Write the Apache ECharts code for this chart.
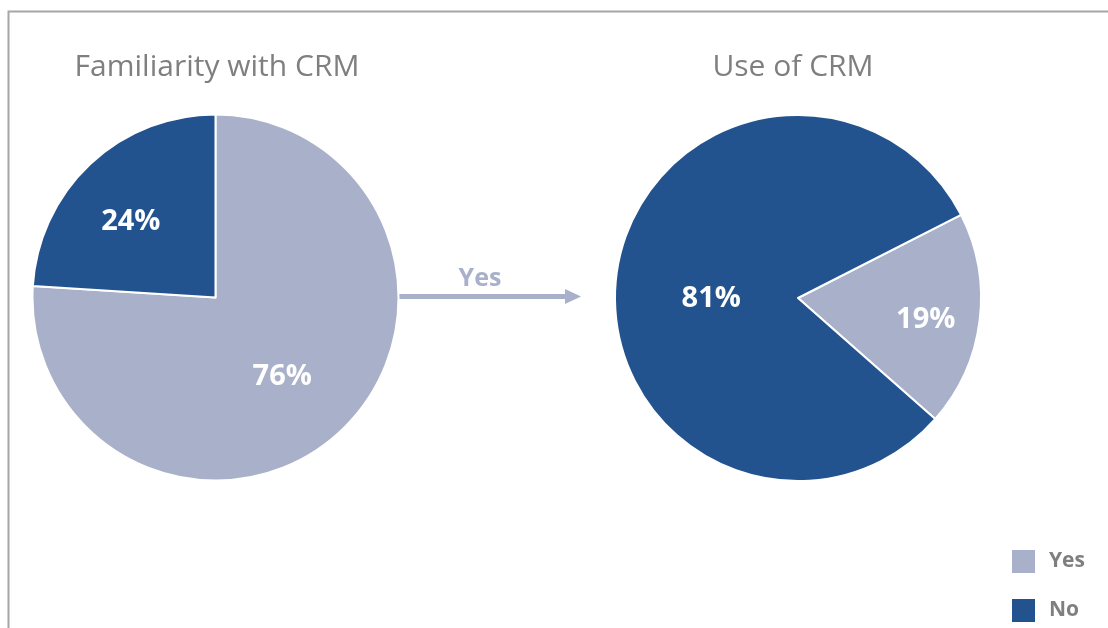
<!DOCTYPE html>
<html>
<head>
<meta charset="utf-8">
<title>CRM familiarity and use</title>
<script src="https://cdn.jsdelivr.net/npm/echarts@6/dist/echarts.min.js"></script>
<style>
  html, body { margin: 0; padding: 0; background: #ffffff; }
  #chart { width: 1108px; height: 628px; }
</style>
</head>
<body>
<div id="chart"></div>
<script>
// Survey answers, in percent
const categories = ['Yes', 'No'];
const familiarityValues = [76, 24];
const useValues = [19, 81];
const titles = ['Familiarity with CRM', 'Use of CRM'];
const arrowLabel = 'Yes';

const colors = { Yes: '#a9b0c9', No: '#22538f' };
const font = 'Open Sans';

// Nudges for the in-slice labels: side padding moves a label sideways,
// a blank line of a given height moves it down (lead) or up (trail)
const familiarityLabelNudge = {
  Yes: { padding: [0, 0, 0, 4], lead: true, lineHeight: 20 },
  No: { padding: [0, 40, 0, 0], lead: false, lineHeight: 14 }
};
const useLabelNudge = {
  Yes: { padding: [0, 0, 0, 68], lead: true, lineHeight: 20 },
  No: { padding: [0, 0, 0, 14], lead: true, lineHeight: 26 }
};

function pieData(values, nudges) {
  return categories.map((name, i) => {
    const n = nudges[name];
    return {
      name: name,
      value: values[i],
      itemStyle: { color: colors[name] },
      label: {
        padding: n.padding,
        lineHeight: n.lineHeight,
        formatter: n.lead ? '\n{c}%' : '{c}%\n'
      }
    };
  });
}

function pieSeries(values, nudges, center, startAngle) {
  return {
    type: 'pie',
    center: center,
    radius: 183,
    startAngle: startAngle,
    clockwise: true,
    silent: true,
    animation: false,
    itemStyle: { borderColor: '#ffffff', borderWidth: 2 },
    label: {
      show: true,
      position: 'inside',
      color: '#ffffff',
      fontFamily: font,
      fontWeight: 'bold',
      fontSize: 29
    },
    labelLine: { show: false },
    emphasis: { disabled: true },
    data: pieData(values, nudges)
  };
}

const chart = echarts.init(document.getElementById('chart'), null, { renderer: 'canvas' });

const titleStyle = { color: '#7f7f7f', fontFamily: font, fontWeight: 'normal', fontSize: 30 };

chart.setOption({
  backgroundColor: '#ffffff',
  animation: false,
  title: [
    { text: titles[0], left: 212, top: 47, textAlign: 'center', textStyle: titleStyle },
    { text: titles[1], left: 788, top: 47, textAlign: 'center', textStyle: titleStyle }
  ],
  legend: {
    data: categories,
    orient: 'vertical',
    left: 1010,
    top: 548,
    padding: 0,
    itemWidth: 25,
    itemHeight: 25,
    itemGap: 22,
    icon: 'rect',
    selectedMode: false,
    formatter: '{t|{name}}',
    textStyle: {
      color: '#7f7f7f', fontFamily: font, fontWeight: 'bold', fontSize: 21,
      rich: { t: { color: '#7f7f7f', fontFamily: font, fontWeight: 'bold', fontSize: 21, padding: [0, 0, 0, 8] } }
    }
  },
  graphic: [
    {
      type: 'rect',
      shape: { x: 8.5, y: 11.5, width: 1200, height: 700 },
      style: { fill: 'none', stroke: '#a6a6a6', lineWidth: 2 },
      silent: true
    },
    {
      type: 'line',
      shape: { x1: 398, y1: 296.5, x2: 568, y2: 296.5 },
      style: { stroke: colors.Yes, lineWidth: 5 },
      silent: true
    },
    {
      type: 'polygon',
      shape: { points: [[565, 289], [581, 296.5], [565, 304]] },
      style: { fill: colors.Yes },
      silent: true
    },
    {
      type: 'text',
      x: 480, y: 279,
      style: {
        text: arrowLabel, fill: colors.Yes, fontFamily: font, fontWeight: 'bold', fontSize: 25,
        align: 'center', verticalAlign: 'middle'
      },
      silent: true
    }
  ],
  series: [
    pieSeries(familiarityValues, familiarityLabelNudge, [215.5, 297.5], 90),
    pieSeries(useValues, useLabelNudge, [798, 298], 27)
  ]
});
</script>
</body>
</html>
